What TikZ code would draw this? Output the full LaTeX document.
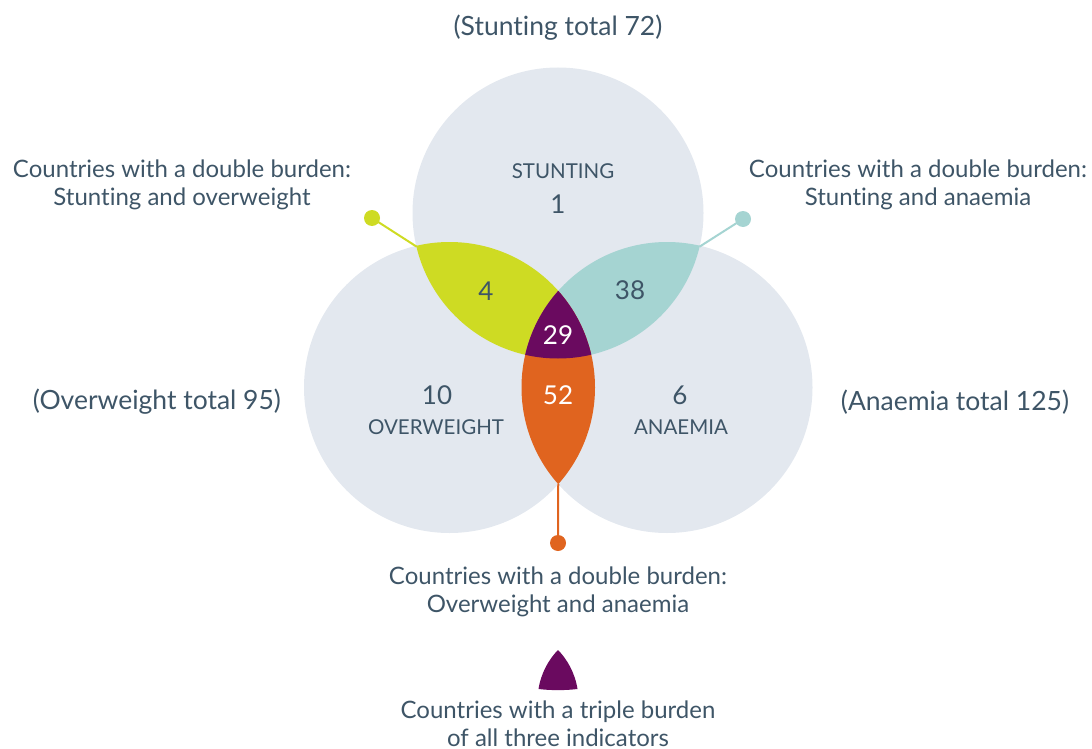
\documentclass[tikz,border=0pt]{standalone}
\usepackage{fontspec}
\setmainfont{Lato}[Ligatures=NoCommon]
\definecolor{circ}{HTML}{E3E8EF}
\definecolor{ylw}{HTML}{CEDB23}
\definecolor{tea}{HTML}{A5D4D2}
\definecolor{pur}{HTML}{6A0A5F}
\definecolor{org}{HTML}{E0641F}
\definecolor{txt}{HTML}{3E5567}
\tikzset{
  lbl/.style={text=txt, font=\fontsize{24}{28}\selectfont, align=center, inner sep=0pt},
  totlbl/.style={text=txt, font=\fontsize{26.5}{30}\selectfont, inner sep=0pt},
  num/.style={text=txt, font=\fontsize{26}{28}\selectfont, inner sep=0pt},
  wnum/.style={text=white, font=\fontsize{26}{28}\selectfont, inner sep=0pt},
  caplbl/.style={text=txt, font=\fontsize{20.5}{24}\selectfont, inner sep=0pt},
  dot/.style={circle, fill=#1, minimum size=16pt, inner sep=0pt},
  lead/.style={draw=#1, line width=2pt}
}
\begin{document}
\begin{tikzpicture}[x=1pt,y=-1pt]
\useasboundingbox (0,0) rectangle (1092,749);
\coordinate (T) at (558,213);
\coordinate (L) at (449.5,387.5);
\coordinate (R) at (667,387.5);
\def\rr{145.5}
% circles
\fill[circ] (T) circle[radius=\rr];
\fill[circ] (L) circle[radius=\rr];
\fill[circ] (R) circle[radius=\rr];
% pairwise overlaps
\begin{scope}
  \clip (T) circle[radius=\rr];
  \fill[ylw] (L) circle[radius=\rr];
\end{scope}
\begin{scope}
  \clip (T) circle[radius=\rr];
  \fill[tea] (R) circle[radius=\rr];
\end{scope}
\begin{scope}
  \clip (L) circle[radius=\rr];
  \fill[org] (R) circle[radius=\rr];
\end{scope}
\begin{scope}
  \clip (T) circle[radius=\rr];
  \clip (L) circle[radius=\rr];
  \fill[pur] (R) circle[radius=\rr];
\end{scope}
% leader anchors
\coordinate (yA) at (416.7,246.7);
\coordinate (tA) at (699.5,246.7);
\coordinate (oA) at (558.25,484);
\node[dot=ylw] (yd) at (372,218) {};
\node[dot=tea] (td) at (743,219) {};
\node[dot=org] (od) at (558,543) {};
\draw[lead=ylw] (yd.center) -- (yA);
\draw[lead=tea] (td.center) -- (tA);
\draw[lead=org] (od.center) -- (oA);
% labels
\node[totlbl] (stot) at (558,28) {(Stunting total 72)};
\node[totlbl] (otot) at (157,402) {(Overweight total 95)};
\node[totlbl] (atot) at (955,402) {(Anaemia total 125)};
\node[lbl] (ldb) at (182,185) {Countries with a double burden:\\Stunting and overweight};
\node[lbl] (rdb) at (918,185) {Countries with a double burden:\\Stunting and anaemia};
\node[lbl] (bdb) at (558,592) {Countries with a double burden:\\Overweight and anaemia};
\node[lbl] (tri) at (558,723.5) {Countries with a triple burden\\of all three indicators};
\node[caplbl] (sl) at (563,171) {STUNTING};
\node[num] (s1) at (558,204) {1};
\node[num] (n4) at (486,291) {4};
\node[num] (n38) at (630,290) {38};
\node[wnum] (n29) at (558,335) {29};
\node[wnum] (n52) at (558,395) {52};
\node[num] (n10) at (437,395) {10};
\node[caplbl] (ol) at (436,427) {OVERWEIGHT};
\node[num] (n6) at (680,395) {6};
\node[caplbl] (al) at (681,427) {ANAEMIA};
% triple icon
\fill[pur] (558,650) .. controls (567,659) and (575,673) .. (577.5,689)
  .. controls (565,690.5) and (551,690.5) .. (538.5,689)
  .. controls (541,673) and (549,659) .. cycle;
\end{tikzpicture}
\end{document}
